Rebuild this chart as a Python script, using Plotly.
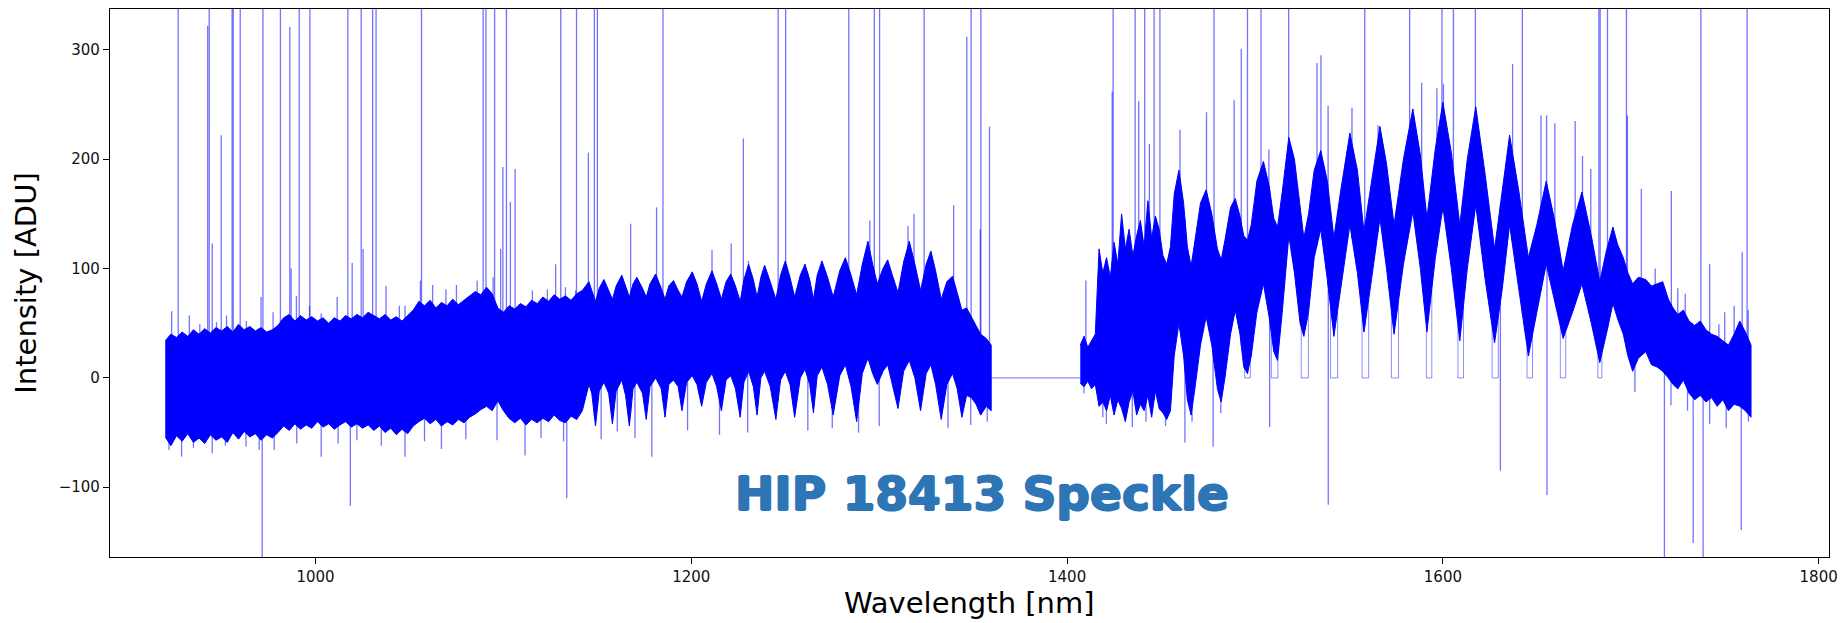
import numpy as np
import plotly.graph_objects as go

# ---------------- data ----------------
# Left detector segment: wavelength [nm], upper / lower edge of the dense band [ADU]
left_wl = [920, 923, 926, 929, 932, 935, 938, 941, 944, 947, 950, 953, 956, 959, 962, 965,
           968, 971, 974, 977, 980, 983, 986, 989, 992, 995, 998, 1001, 1004, 1007, 1010,
           1013, 1016, 1019, 1022, 1025, 1028, 1031, 1034, 1037, 1040, 1043, 1046, 1049,
           1052, 1055, 1058, 1061, 1064, 1067, 1070, 1073, 1076, 1079, 1082, 1085, 1088,
           1091, 1094, 1097, 1100, 1103, 1106, 1109, 1112, 1115, 1118, 1121, 1124, 1127,
           1130, 1133, 1136, 1139, 1142,
           1145.5, 1147, 1149, 1151, 1153.5, 1156, 1158, 1160, 1163, 1165, 1167, 1169,
           1171, 1174, 1176, 1178, 1181, 1184, 1186, 1188, 1190.5, 1193, 1195, 1197.5,
           1200.5, 1203, 1205.5, 1208, 1211, 1213.5, 1216, 1218.5, 1221, 1223.5, 1226,
           1228, 1230.5, 1233, 1235, 1237, 1239, 1242, 1245, 1247.5, 1250, 1252.5, 1255,
           1258, 1260.5, 1263, 1265, 1267, 1269.5, 1272.5, 1275.5, 1279, 1282, 1285, 1288,
           1291, 1294, 1296.5, 1299, 1302, 1304.5, 1307, 1310, 1313, 1316, 1319, 1322,
           1325, 1327.5, 1330, 1333, 1336, 1339, 1341.5, 1344, 1346.5, 1349, 1351.5, 1354,
           1357, 1359.6]
left_hi = [34, 40, 37, 42, 38, 44, 40, 45, 41, 46, 43, 47, 42, 49, 44, 47,
           43, 46, 42, 44, 48, 55, 58, 52, 57, 53, 56, 52, 55, 50, 55,
           52, 57, 54, 58, 55, 60, 57, 54, 58, 53, 56, 52, 57,
           62, 70, 66, 71, 64, 69, 66, 72, 67, 71, 75, 79, 76,
           83, 77, 64, 60, 66, 63, 68, 65, 71, 68, 74, 70, 76,
           72, 75, 71, 77, 80,
           88, 80, 70, 82, 90, 80, 72, 84, 94, 84, 74, 86,
           92, 82, 74, 86, 95, 82, 72, 84, 89, 80, 74, 88,
           97, 86, 70, 86, 98, 86, 72, 88, 95, 84, 70,
           90, 104, 90, 74, 92, 103, 88, 72, 94, 107, 92, 74,
           94, 104, 90, 72, 94, 107, 92, 74, 98, 110, 94, 76,
           104, 125, 104, 86, 100, 108, 94, 78, 106, 125, 104, 80,
           104, 116, 98, 72, 88, 93, 78, 62, 64, 56, 48, 40,
           36, 30]
left_lo = [-54, -62, -53, -58, -51, -59, -55, -60, -52, -57, -54, -59, -50, -56, -49, -54,
           -51, -57, -52, -55, -50, -44, -48, -42, -47, -43, -46, -40, -45, -42, -47,
           -43, -40, -45, -42, -46, -43, -48, -44, -50, -46, -52, -47, -51,
           -44, -40, -37, -42, -38, -44, -40, -43, -38, -41, -36, -33, -29,
           -26, -30, -21, -30, -37, -41, -37, -43, -38, -41, -37, -40, -34,
           -39, -41, -35, -38, -30,
           -6, -14, -44, -12, -4, -14, -42, -12, -2, -16, -44, -10,
           -4, -14, -38, -8, 0, -10, -36, -6, -2, -8, -30, -4,
           2, -6, -26, -4, 4, -8, -30, -2, 2, -10, -36,
           -4, 6, -8, -34, 0, 6, -8, -38, -2, 6, -6, -36,
           0, 8, -6, -32, 2, 10, -6, -34, 2, 12, -8, -40,
           4, 18, 4, -6, 6, 12, -6, -28, 6, 16, 0, -30,
           4, 12, -6, -38, -6, 4, -10, -36, -16, -18, -24, -34,
           -26, -30]

# Right detector segment
right_wl = [1407, 1409, 1411, 1413, 1415, 1417, 1419, 1421, 1423, 1425, 1427, 1429, 1431,
            1433, 1435, 1437, 1439, 1441, 1443, 1445, 1447, 1449, 1451, 1453, 1455, 1457,
            1459.5, 1462, 1464, 1466, 1468, 1471, 1474, 1477, 1480, 1482, 1484, 1487,
            1489.5, 1492, 1494, 1496, 1498, 1501, 1504.5, 1507.5, 1510, 1512, 1514.5, 1518,
            1521, 1524, 1526, 1528.5, 1531.5, 1535, 1538.5, 1542, 1545.5, 1550.5, 1554.5,
            1558, 1562, 1566.5, 1570, 1574, 1579, 1584, 1588, 1591.5, 1596, 1600, 1604.5,
            1609, 1613, 1617.5, 1622.5, 1627.5, 1631.5, 1635.5, 1640.5, 1645.5, 1650, 1655,
            1659.5, 1664, 1669, 1674, 1679, 1683.5, 1687, 1690.5, 1693, 1696, 1698.5, 1701,
            1704, 1708, 1711, 1714, 1717, 1720, 1722.5, 1725, 1728, 1731, 1734, 1737, 1740,
            1743, 1746, 1749, 1752, 1755, 1758, 1761, 1764]
right_hi = [30, 38, 28, 34, 40, 118, 96, 110, 92, 124, 104, 150, 118,
            136, 112, 130, 144, 120, 162, 128, 148, 136, 112, 104, 120, 168,
            190, 160, 120, 102, 124, 160, 172, 150, 118, 108, 126, 156,
            164, 148, 130, 126, 140, 180, 198, 176, 146, 138, 170, 220,
            200, 156, 128, 150, 190, 208, 180, 128, 170, 224, 190,
            134, 180, 230, 196, 140, 200, 246, 204, 146, 210, 252, 206,
            140, 200, 248, 186, 118, 170, 222, 170, 110, 140, 180,
            144, 98, 140, 170, 130, 88, 116, 138, 122, 110, 96, 86,
            92, 90, 84, 86, 88, 72, 64, 58, 62, 52, 48, 52, 44,
            40, 38, 34, 30, 40, 52, 42, 30]
right_lo = [-5, -8, -3, -10, -6, -26, -22, -30, -16, -34, -20, -28, -40,
            -22, -12, -34, -24, -30, -16, -36, -12, -28, -32, -38, -30, 20,
            50, 20, -20, -34, -10, 30, 56, 30, -10, -22, 0, 40,
            62, 40, 10, 4, 20, 60, 86, 56, 24, 16, 60, 130,
            96, 50, 38, 60, 110, 136, 90, 38, 80, 140, 96,
            42, 90, 146, 100, 40, 104, 152, 100, 42, 110, 156, 100,
            34, 100, 158, 90, 32, 80, 140, 80, 20, 60, 104,
            70, 36, 60, 86, 50, 14, 40, 68, 54, 40, 20, 6,
            18, 24, 12, 10, 6, 0, -6, -10, -2, -14, -20, -16, -22,
            -18, -26, -20, -30, -24, -26, -30, -36]

# Masked (zero-valued) stretch between the two segments
gap_wl = [1359.6, 1407]
gap_val = [0, 0]

# Isolated positive spikes: wavelength [nm] and peak value [ADU] (400 = off the top)
spike_wl = [923.4, 926.9, 932.8, 942.6, 943.4, 945, 949.8, 955.6, 956.2, 959.9, 971, 972,
            981.3, 986.3, 987, 989.8, 991.3, 997, 1011.5, 1017.2, 1019.5, 1024.3, 1025.3,
            1030.4, 1032.2, 1047.6, 1055.8, 1056.4, 1062.3, 1075, 1089.2, 1090.7, 1094.5,
            1095.3, 1098.5, 1099.7, 1101.6, 1103.7, 1106.2, 1127.8, 1130.5, 1133, 1138.9,
            1144.6, 1145.2, 1148.4, 1150, 1167.7, 1181.5, 1184.9, 1211, 1221.2, 1227.7,
            1230.4, 1246.2, 1250.2, 1283.8, 1295, 1297.4, 1300.2, 1315.3, 1318.5, 1323.9,
            1339.6, 1346.6, 1348.9, 1353.8, 1354.1, 1358.7,
            1410, 1424, 1424.5, 1436.2, 1438.1, 1441.3, 1443.8, 1446.3, 1449.4, 1460.1,
            1474.2, 1478.2, 1488.9, 1492.7, 1496, 1503.2, 1507.4, 1517.9, 1533, 1535.1,
            1538.9, 1551.6, 1558.4, 1565.5, 1582.3, 1588.7, 1596.8, 1599.5, 1600.3, 1605.6,
            1617.3, 1637.1, 1642.3, 1652.2, 1655.2, 1659.6, 1670.4, 1674.3, 1678.7, 1683,
            1683.7, 1687.6, 1697.7, 1698.2, 1705.6, 1721.6, 1729, 1737.3, 1742, 1746.9,
            1759.3, 1761.9]
spike_top = [61, 400, 57, 322, 400, 123, 222, 400, 400, 400, 74, 400,
             400, 321, 100, 75, 400, 400, 74, 400, 105, 400, 118,
             400, 400, 66, 89, 400, 85, 85, 400, 400, 92,
             400, 118, 193, 400, 161, 191, 104, 400, 83, 400,
             83, 206, 400, 400, 141, 156, 400, 117, 123, 219,
             107, 400, 400, 400, 144, 400, 400, 139, 150, 400,
             158, 312, 400, 136, 400, 230,
             89, 262, 400, 400, 253, 400, 214, 400, 400, 227,
             243, 400, 254, 301, 400, 400, 209, 400, 288, 295,
             249, 247, 400, 231, 400, 270, 265, 400, 269, 400,
             400, 287, 400, 240, 240, 233, 235, 203, 191, 400,
             400, 400, 400, 240, 173, 171, 77, 400, 104, 49,
             115, 400]

# Short noise whiskers above the band: wavelength [nm], top [ADU]
whisk_up_wl = [938.4, 947.3, 952.6, 963.2, 977.4, 996.8, 1003, 1037.5, 1044.6, 1069.4,
               1086, 1115.4, 1123.4, 1138.4, 1713, 1725, 1750, 1755, 1762.5]
whisk_up_top = [49, 51, 57, 52, 60, 66, 59, 84, 66, 81,
                89, 80, 81, 80, 100, 82, 60, 66, 62]

# Short noise whiskers below the band: wavelength [nm], bottom [ADU]
whisk_dn_wl = [922, 928.7, 935, 945, 952, 963, 970, 978, 990, 1003, 1012, 1022, 1035,
               1047.6, 1058, 1067, 1080, 1096.6, 1111.5, 1120, 1132, 1152, 1160.6, 1170,
               1179, 1198, 1215, 1230, 1262, 1275, 1289, 1300, 1336.6, 1348.7, 1357.5,
               1409, 1419, 1420.9, 1434.7, 1442, 1452.4, 1462.7, 1466.5, 1477.7, 1481.8,
               1702.2, 1721.4, 1730.2, 1742, 1750.8, 1762.6]
whisk_dn_bot = [-66, -72, -64, -69, -62, -63, -66, -66, -60, -72, -60, -57, -62,
                -72, -58, -65, -56, -57, -71, -55, -58, -56, -49, -55,
                -72, -48, -52, -50, -48, -46, -50, -44, -46, -43, -40,
                -14, -36, -42, -45, -40, -44, -59, -40, -63, -32,
                -13, -25, -30, -42, -46, -40]

# Isolated negative spikes: wavelength [nm] and lowest value [ADU] (-200 = off the bottom)
neg_wl = [971.6, 1018.5, 1133.7, 1507.8, 1539, 1630.6, 1655.4, 1717.9, 1733.2, 1738.5, 1758.8]
neg_bottom = [-200, -117, -110, -45, -116, -85, -107, -200, -151, -200, -139]

# Short masked stretches (value 0) inside the right segment: start / end wavelength [nm]
dip_start = [1494.5, 1508.7, 1524.6, 1540.2, 1557, 1572.6, 1591.2, 1608, 1626.2, 1644.8,
             1662.5, 1682.5]
dip_end = [1497.5, 1512.2, 1528.4, 1544, 1560.5, 1576.4, 1594.1, 1611, 1629.5, 1647.7,
           1665.4, 1684.6]

x_ticks = [1000, 1200, 1400, 1600, 1800]
y_ticks = [-100, 0, 100, 200, 300]

# ---------------- figure ----------------
BLUE = "rgb(0,0,255)"
SPIKE = "rgba(0,0,255,0.55)"

all_wl = np.array(left_wl + right_wl, dtype=float)
all_hi = np.array(left_hi + right_hi, dtype=float)
all_lo = np.array(left_lo + right_lo, dtype=float)

fig = go.Figure()

# gap line
fig.add_trace(go.Scatter(x=gap_wl, y=gap_val, mode="lines",
                         line=dict(color=SPIKE, width=1), hoverinfo="skip"))

# dense band for each segment
for wl, hi, lo in ((left_wl, left_hi, left_lo), (right_wl, right_hi, right_lo)):
    fig.add_trace(go.Scatter(x=list(wl) + list(wl[::-1]), y=list(hi) + list(lo[::-1]),
                             mode="lines", fill="toself", fillcolor=BLUE,
                             line=dict(color=BLUE, width=1), hoverinfo="skip"))

# zero dips
dx, dy = [], []
for a, b in zip(dip_start, dip_end):
    la = float(np.interp(a, all_wl, all_lo)); lb = float(np.interp(b, all_wl, all_lo))
    dx += [a, a, b, b, None]
    dy += [la, 0, 0, lb, None]
fig.add_trace(go.Scatter(x=dx, y=dy, mode="lines", line=dict(color="rgba(0,0,255,0.45)", width=1),
                         hoverinfo="skip"))


def vlines(wls, ends, anchor):
    xs, ys = [], []
    for w, e in zip(wls, ends):
        xs += [w, w, None]
        ys += [float(np.interp(w, all_wl, anchor)), e, None]
    return xs, ys


# positive spikes and upper whiskers (rise from the band)
sx, sy = vlines(spike_wl + whisk_up_wl, spike_top + whisk_up_top, all_lo)
fig.add_trace(go.Scatter(x=sx, y=sy, mode="lines", line=dict(color=SPIKE, width=1.3),
                         hoverinfo="skip"))

# negative spikes and lower whiskers (drop from the band)
nx, ny = vlines(neg_wl + whisk_dn_wl, neg_bottom + whisk_dn_bot, all_hi)
fig.add_trace(go.Scatter(x=nx, y=ny, mode="lines", line=dict(color=SPIKE, width=1.3),
                         hoverinfo="skip"))

axis_common = dict(showline=True, mirror=True, linecolor="#000", linewidth=1.2,
                   ticks="outside", ticklen=6, tickwidth=1.1, tickcolor="#000",
                   showgrid=False, zeroline=False,
                   tickfont=dict(family="DejaVu Sans", size=15, color="#111"))

TITLE_BLUE = "#2E75B6"
fig.update_layout(
    width=1846, height=623,
    margin=dict(l=110, r=13, t=8, b=66),
    paper_bgcolor="white", plot_bgcolor="white",
    showlegend=False,
    xaxis=dict(range=[890.6, 1805.5], tickvals=x_ticks, ticktext=[str(v) for v in x_ticks],
               **axis_common),
    yaxis=dict(range=[-163.8, 337.4], tickvals=y_ticks,
               ticktext=[("\u2212" + str(-v)) if v < 0 else str(v) for v in y_ticks],
               **axis_common),
    annotations=[
        dict(text="Wavelength [nm]", xref="paper", yref="paper", x=0.5, y=-0.084,
             xanchor="center", yanchor="middle", showarrow=False,
             font=dict(family="DejaVu Sans", size=29, color="#000")),
        dict(text="Intensity [ADU]", xref="paper", yref="paper", x=-0.049, y=0.5,
             xanchor="center", yanchor="middle", textangle=-90, showarrow=False,
             font=dict(family="DejaVu Sans", size=29, color="#000")),
        dict(text="<b>HIP 18413 Speckle</b>", xref="paper", yref="y", x=0.507, y=-106,
             xanchor="center", yanchor="middle", showarrow=False,
             font=dict(family="DejaVu Sans", size=47, color=TITLE_BLUE,
                       shadow=f"1px 0px 0px {TITLE_BLUE}, -1px 0px 0px {TITLE_BLUE}, "
                              f"0px 1px 0px {TITLE_BLUE}, 0px -1px 0px {TITLE_BLUE}")),
    ],
)

fig.write_html("out.html")
